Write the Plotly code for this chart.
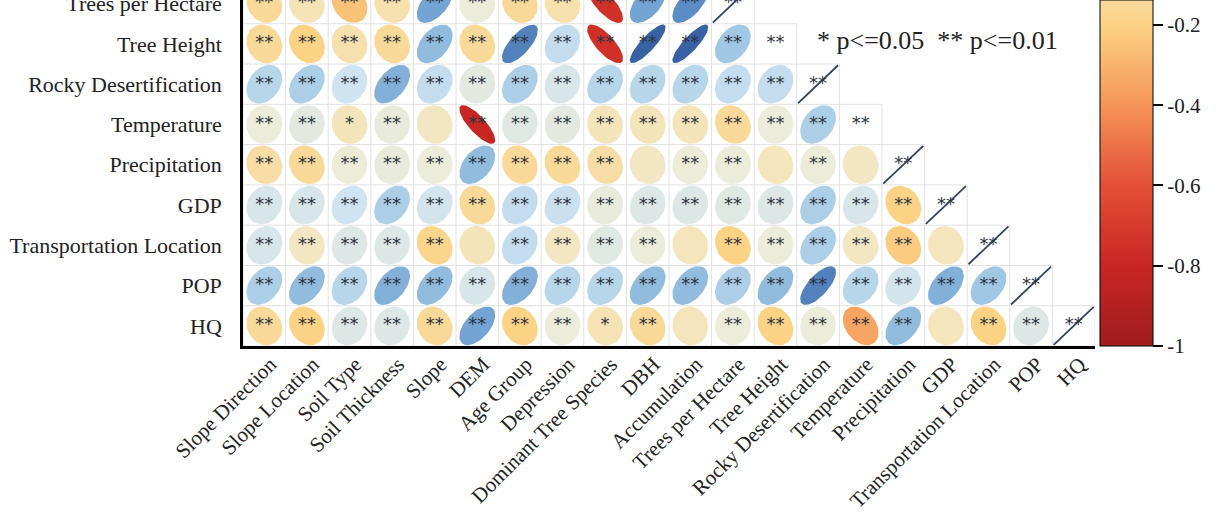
import numpy as np
import plotly.graph_objects as go

variables = ["Slope Direction", "Slope Location", "Soil Type", "Soil Thickness", "Slope", "DEM",
             "Age Group", "Depression", "Dominant Tree Species", "DBH", "Accumulation",
             "Trees per Hectare", "Tree Height", "Rocky Desertification", "Temperature",
             "Precipitation", "GDP", "Transportation Location", "POP", "HQ"]

# lower triangle rows that are visible (row index 11..19)
# None = no ellipse drawn
r_trees_per_hectare = [-0.15, -0.08, -0.25, -0.1, 0.55, 0.03, -0.15, -0.1, -0.75, 0.55, 0.65, 1]
r_tree_height = [-0.15, -0.2, -0.1, -0.15, 0.45, -0.15, 0.7, 0.25, -0.75, 0.85, 0.85, 0.4, None]
r_rocky = [0.3, 0.35, 0.2, 0.5, 0.25, 0.08, 0.35, 0.15, 0.3, 0.3, 0.3, 0.25, 0.25, 1]
r_temperature = [0.03, 0.08, -0.07, 0.05, -0.05, -0.8, 0.1, 0.08, -0.07, -0.07, -0.07, -0.15,
                 0.03, 0.35, None]
r_precipitation = [-0.12, -0.15, 0.02, 0.05, 0.03, 0.45, -0.15, -0.15, -0.12, -0.05, 0.02, 0.03,
                   -0.06, 0.03, -0.05, 1]
r_gdp = [0.15, 0.15, 0.2, 0.35, 0.18, -0.15, 0.25, 0.22, 0.05, 0.12, 0.12, 0.1, 0.12, 0.35,
         0.15, -0.2, 1]
r_transport = [0.15, -0.05, 0.12, 0.12, -0.18, -0.07, 0.25, -0.05, 0.1, 0.03, -0.06, -0.2, 0.03,
               0.35, -0.05, -0.22, -0.06, 1]
r_pop = [0.35, 0.45, 0.3, 0.5, 0.45, 0.15, 0.5, 0.3, 0.3, 0.45, 0.45, 0.35, 0.45, 0.7, 0.3,
         0.18, 0.5, 0.4, 1]
r_hq = [-0.15, -0.2, 0.12, 0.12, -0.15, 0.55, -0.2, 0.03, -0.08, -0.15, -0.06, 0.03, -0.2, 0.03,
        -0.35, 0.45, -0.06, -0.2, 0.12, 1]

s_trees_per_hectare = ["**"] * 12
s_tree_height = ["**"] * 13
s_rocky = ["**"] * 14
s_temperature = ["**", "**", "*", "**", "", "**", "**", "**", "**", "**", "**", "**", "**", "**", "**"]
s_precipitation = ["**", "**", "**", "**", "**", "**", "**", "**", "**", "", "**", "**", "",
                   "**", "", "**"]
s_gdp = ["**"] * 17
s_transport = ["**", "**", "**", "**", "**", "", "**", "**", "**", "**", "", "**", "**", "**",
               "**", "**", "", "**"]
s_pop = ["**"] * 19
s_hq = ["**", "**", "**", "**", "**", "**", "**", "**", "*", "**", "", "**", "**", "**", "**",
        "**", "", "**", "**", "**"]

rows_r = [r_trees_per_hectare, r_tree_height, r_rocky, r_temperature, r_precipitation,
          r_gdp, r_transport, r_pop, r_hq]
rows_s = [s_trees_per_hectare, s_tree_height, s_rocky, s_temperature, s_precipitation,
          s_gdp, s_transport, s_pop, s_hq]
first_row = 11

# only the lower part of the colour bar is inside the picture
cbar_vals = [-1, -0.8, -0.6, -0.4, -0.2]
cbar_text = ["-1", "-0.8", "-0.6", "-0.4", "-0.2"]
cbar_top = -0.138

stops = [(-1.0, (160, 28, 30)), (-0.8, (200, 38, 35)), (-0.6, (228, 80, 54)),
         (-0.4, (246, 148, 88)), (-0.2, (252, 210, 132)), (0.0, (240, 237, 214)),
         (0.2, (208, 227, 240)), (0.4, (160, 200, 228)), (0.6, (102, 152, 205)),
         (0.8, (62, 106, 172)), (1.0, (40, 72, 140))]


def col(v):
    xs = [s[0] for s in stops]
    rgb = [int(round(np.interp(v, xs, [s[1][k] for s in stops]))) for k in range(3)]
    return "rgb(%d,%d,%d)" % tuple(rgb)


cb_pts = [s[0] for s in stops if s[0] < cbar_top] + [cbar_top]
colorscale = [[(v + 1) / (cbar_top + 1), col(v)] for v in cb_pts]

fig = go.Figure()

# grid of the lower triangle
n = len(variables)
gx, gy = [], []
for k in range(n + 1):
    gx += [-0.5, min(k, n - 1) + 0.5, None]
    gy += [k - 0.5, k - 0.5, None]
for c in range(n + 1):
    gx += [c - 0.5, c - 0.5, None]
    gy += [max(c - 1, 0) - 0.5, n - 0.5, None]
fig.add_trace(go.Scatter(x=gx, y=gy, mode="lines", line=dict(color="rgb(226,226,226)", width=1),
                         hoverinfo="skip", showlegend=False))

t = np.linspace(0, 2 * np.pi, 60)
sx, sy = 0.42, 0.48
tx, ty, tt = [], [], []
for i, (rr, ss) in enumerate(zip(rows_r, rows_s)):
    row = first_row + i
    for c, (v, s) in enumerate(zip(rr, ss)):
        if v is not None and v < 1:
            d = np.arccos(v)
            ex = c + sx * np.cos(t + d / 2)
            ey = row - sy * np.cos(t - d / 2)
            fig.add_trace(go.Scatter(x=ex, y=ey, mode="lines", fill="toself",
                                     fillcolor=col(v), line=dict(width=0, color=col(v)),
                                     hoverinfo="skip", showlegend=False))
        elif v == 1:
            fig.add_trace(go.Scatter(x=[c - 0.47, c + 0.47], y=[row + 0.47, row - 0.47],
                                     mode="lines", line=dict(color="rgb(48,66,104)", width=1.8),
                                     hoverinfo="skip", showlegend=False))
        if s:
            tx.append(c)
            ty.append(row)
            tt.append(s)

fig.add_trace(go.Scatter(x=tx, y=ty, text=tt, mode="text",
                         textfont=dict(family="DejaVu Sans", size=18, color="rgb(45,52,64)"),
                         hoverinfo="skip", showlegend=False))

# colour bar holder
fig.add_trace(go.Scatter(x=[-10, -10], y=[15, 15], mode="markers",
                         marker=dict(color=[-1, cbar_top], colorscale=colorscale, cmin=-1,
                                     cmax=cbar_top, size=1, showscale=True,
                                     colorbar=dict(thickness=53, lenmode="fraction", len=1,
                                                   y=0, yanchor="bottom", ypad=0,
                                                   x=1.006, xanchor="left", xpad=0,
                                                   outlinecolor="black", outlinewidth=1,
                                                   ticks="outside", ticklen=10, tickwidth=1.5,
                                                   tickcolor="black",
                                                   tickvals=cbar_vals, ticktext=cbar_text,
                                                   tickfont=dict(family="Liberation Serif",
                                                                 size=21, color="#222"))),
                         hoverinfo="skip", showlegend=False))

fig.add_annotation(x=0.815, y=0.884, xref="paper", yref="paper", showarrow=False,
                   text="* p<=0.05  ** p<=0.01", xanchor="center", yanchor="middle",
                   font=dict(family="Liberation Serif", size=26, color="#222"))

fig.update_layout(
    width=1226, height=522,
    margin=dict(l=243, r=131, t=0, b=176, autoexpand=False),
    paper_bgcolor="white", plot_bgcolor="white",
    xaxis=dict(range=[-0.5, 19.5], tickvals=list(range(n)), ticktext=variables,
               tickangle=-45, showgrid=False, zeroline=False, showline=True,
               linecolor="black", linewidth=2.5, ticks="",
               ticklabelshift=6, ticklabelstandoff=-5,
               tickfont=dict(family="Liberation Serif", size=21, color="#222")),
    yaxis=dict(range=[19.5, 10.91], tickvals=list(range(n)), ticktext=variables,
               showgrid=False, zeroline=False, showline=True, linecolor="black",
               linewidth=2.5, ticks="", ticklabelstandoff=14, ticklabeloverflow="allow",
               tickfont=dict(family="Liberation Serif", size=22, color="#222")),
)

fig.write_html("out.html", config={"displayModeBar": False},
               post_script="document.body.style.margin='0';")
